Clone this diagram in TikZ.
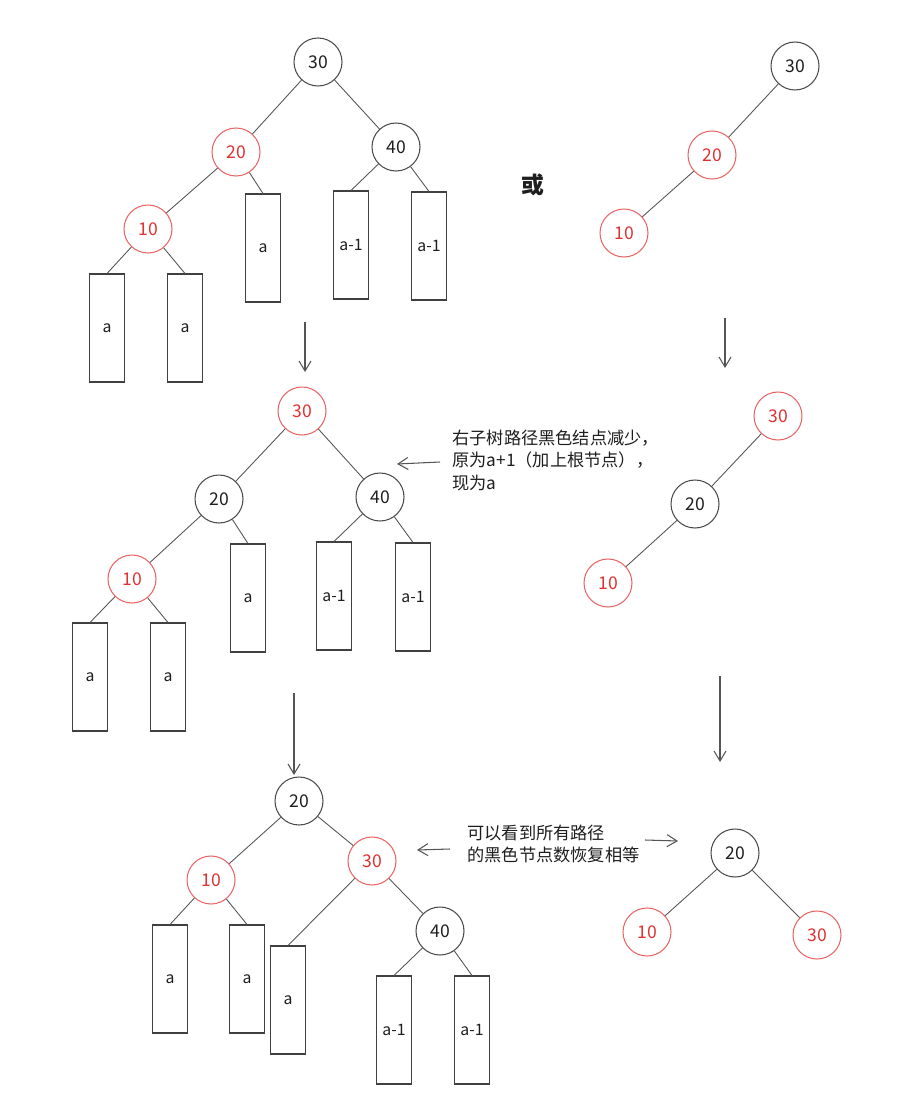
\documentclass[tikz,border=0pt]{standalone}
\usepackage{fontspec}
\usepackage{tikz}
\usetikzlibrary{arrows.meta,positioning}
\newfontfamily\cjk{Noto Sans CJK SC}
\definecolor{rbred}{HTML}{E03131}
\definecolor{rbink}{HTML}{1E1E1E}
\definecolor{rbedge}{HTML}{555555}

\begin{document}
\begin{tikzpicture}[
    x=0.02cm, y=-0.02cm,
    blk/.style={circle, draw=rbink!80, line width=0.6pt, minimum size=0.96cm, inner sep=0pt, text=rbink, font=\cjk\fontsize{10}{12}\selectfont},
    rbr/.style={blk, draw=rbred!75, text=rbred},
    sub/.style={rectangle, draw=rbink!85, line width=0.6pt, minimum width=0.7cm, minimum height=2.16cm, inner sep=0pt, text=rbink, font=\cjk\fontsize{9}{11}\selectfont},
    link/.style={draw=rbedge, line width=0.5pt},
    arr/.style={-{Straight Barb[length=2mm, width=2.4mm]}, draw=rbedge, line width=0.6pt},
    note/.style={anchor=west, align=left, inner sep=0pt, text=rbink, font=\cjk\fontsize{9.8}{12.8}\selectfont},
]
    \useasboundingbox (0,0) rectangle (910,1105);

    % Tree 1 (left)
    \node[blk] (a30) at (318,62) {30};
    \node[rbr] (a20) at (236,152) {20};
    \node[blk] (a40) at (396,147) {40};
    \node[rbr] (a10) at (148,229) {10};
    \node[sub] (aA) at (107,328) {a};
    \node[sub] (aB) at (185,328) {a};
    \node[sub] (aC) at (263,248) {a};
    \node[sub] (aD) at (351,245) {a-1};
    \node[sub] (aE) at (429,246) {a-1};
    \draw[link] (a30) -- (a20);
    \draw[link] (a30) -- (a40);
    \draw[link] (a20) -- (a10);
    \draw[link] (a20) -- (aC.north);
    \draw[link] (a10) -- (aA.north);
    \draw[link] (a10) -- (aB.north);
    \draw[link] (a40) -- (aD.north);
    \draw[link] (a40) -- (aE.north);

    % or
    \node[font=\cjk\bfseries\fontsize{13}{15}\selectfont, text=rbink] (huo) at (533,185) {或};

    % Tree 1 (right)
    \node[blk] (b30) at (795,66) {30};
    \node[rbr] (b20) at (712,155) {20};
    \node[rbr] (b10) at (624,233) {10};
    \draw[link] (b30) -- (b20);
    \draw[link] (b20) -- (b10);

    % Arrows down
    \coordinate (p1) at (305,322);
    \coordinate (p2) at (305,372);
    \coordinate (q1) at (725,318);
    \coordinate (q2) at (725,368);
    \draw[arr] (p1) -- (p2);
    \draw[arr] (q1) -- (q2);

    % Tree 2 (left)
    \node[rbr] (c30) at (302,411) {30};
    \node[blk] (c20) at (219,499) {20};
    \node[blk] (c40) at (380,497) {40};
    \node[rbr] (c10) at (132,579) {10};
    \node[sub] (cA) at (90,677) {a};
    \node[sub] (cB) at (168,677) {a};
    \node[sub] (cC) at (248,598) {a};
    \node[sub] (cD) at (334,596) {a-1};
    \node[sub] (cE) at (413,597) {a-1};
    \draw[link] (c30) -- (c20);
    \draw[link] (c30) -- (c40);
    \draw[link] (c20) -- (c10);
    \draw[link] (c20) -- (cC.north);
    \draw[link] (c10) -- (cA.north);
    \draw[link] (c10) -- (cB.north);
    \draw[link] (c40) -- (cD.north);
    \draw[link] (c40) -- (cE.north);

    % Note 1
    \node[note] (note1) at (452,460) {右子树路径黑色结点减少，\\原为a+1（加上根节点），\\现为a};
    \coordinate (n1a) at (440,462);
    \coordinate (n1b) at (397,464);
    \draw[arr] (n1a) -- (n1b);

    % Tree 2 (right)
    \node[rbr] (d30) at (778,416) {30};
    \node[blk] (d20) at (695,504) {20};
    \node[rbr] (d10) at (608,583) {10};
    \draw[link] (d30) -- (d20);
    \draw[link] (d20) -- (d10);

    % Arrows down
    \coordinate (p3) at (294,693);
    \coordinate (p4) at (294,775);
    \coordinate (q3) at (720,676);
    \coordinate (q4) at (720,762);
    \draw[arr] (p3) -- (p4);
    \draw[arr] (q3) -- (q4);

    % Tree 3 (left)
    \node[blk] (e20) at (299,801) {20};
    \node[rbr] (e10) at (211,880) {10};
    \node[rbr] (e30) at (372,861) {30};
    \node[blk] (e40) at (440,931) {40};
    \node[sub] (eA) at (170,979) {a};
    \node[sub] (eB) at (247,979) {a};
    \node[sub] (eC) at (288,1000) {a};
    \node[sub] (eD) at (394,1030) {a-1};
    \node[sub] (eE) at (472,1030) {a-1};
    \draw[link] (e20) -- (e10);
    \draw[link] (e20) -- (e30);
    \draw[link] (e10) -- (eA.north);
    \draw[link] (e10) -- (eB.north);
    \draw[link] (e30) -- (eC.north);
    \draw[link] (e30) -- (e40);
    \draw[link] (e40) -- (eD.north);
    \draw[link] (e40) -- (eE.north);

    % Note 2
    \node[note] (note2) at (467,844) {可以看到所有路径\\的黑色节点数恢复相等};
    \coordinate (n2a) at (450,849);
    \coordinate (n2b) at (417,850);
    \coordinate (n2c) at (645,840);
    \coordinate (n2d) at (678,841);
    \draw[arr] (n2a) -- (n2b);
    \draw[arr] (n2c) -- (n2d);

    % Tree 3 (right)
    \node[blk] (f20) at (735,853) {20};
    \node[rbr] (f10) at (647,932) {10};
    \node[rbr] (f30) at (817,935) {30};
    \draw[link] (f20) -- (f10);
    \draw[link] (f20) -- (f30);
\end{tikzpicture}
\end{document}
